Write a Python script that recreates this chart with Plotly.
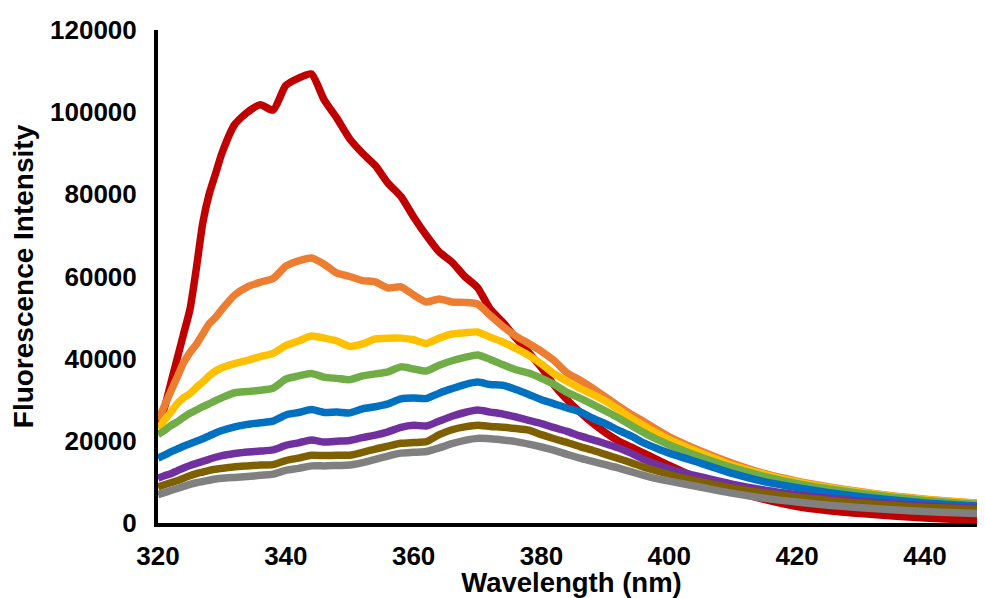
import plotly.graph_objects as go

wavelength = [320, 321, 322, 323, 324, 325, 326, 327, 328, 329, 330,
              332, 334, 336, 338, 340, 342, 344, 346, 348, 350,
              352, 354, 356, 358, 360, 362, 364, 366, 368, 370,
              372, 374, 376, 378, 380, 382, 384, 386, 388, 390,
              392, 394, 396, 398, 400,
              405, 410, 415, 420, 425, 430, 435, 440, 445, 450]

red = [24000, 28000, 34000, 40000, 46000, 52000, 62000, 73000, 80000, 85000, 90000,
       97000, 100000, 101800, 100500, 106500, 108300, 109300, 103000, 98500, 93500,
       90000, 87000, 82700, 79500, 74500, 70000, 66000, 63500, 60000, 57300,
       52000, 48800, 45000, 41500, 37800, 33500, 30000, 27000, 24300, 22000,
       20000, 18500, 17000, 15500, 14000,
       10500, 7800, 5700, 4000, 3000, 2300, 1700, 1200, 850, 500]

orange = [25000, 28500, 32000, 35500, 39000, 41500, 43500, 46000, 48500, 50000, 52000,
          55500, 57500, 58600, 59500, 62500, 63800, 64500, 63000, 60800, 60000,
          59000, 58700, 57200, 57500, 55500, 53800, 54500, 53800, 53700, 53300,
          50500, 47800, 45500, 43700, 41800, 39500, 36500, 34800, 32800, 30700,
          28500, 26500, 24700, 22800, 21000,
          17500, 14500, 12000, 10200, 8800, 7600, 6600, 5800, 5200, 4700]

yellow = [23000, 25000, 27000, 29000, 30500, 31500, 33000, 34300, 35800, 37000, 37800,
          38800, 39600, 40500, 41300, 43200, 44300, 45500, 45000, 44300, 43000,
          43600, 44800, 45000, 45000, 44600, 43700, 45000, 46000, 46300, 46500,
          45200, 44000, 42500, 40800, 38700, 36300, 34500, 32800, 31300, 29700,
          27700, 25600, 23700, 21900, 20300,
          17000, 14000, 11800, 10000, 8600, 7500, 6500, 5700, 5100, 4600]

green = [21500, 22500, 23700, 24600, 25700, 26700, 27500, 28300, 29000, 29800, 30500,
         31700, 32000, 32300, 32800, 35000, 35800, 36400, 35500, 35200, 34900,
         35800, 36300, 36800, 38000, 37500, 37000, 38400, 39500, 40300, 40900,
         39800, 38500, 37300, 36500, 35200, 33700, 31800, 30400, 28900, 27300,
         25600, 23800, 22000, 20400, 19000,
         16000, 13400, 11300, 9600, 8300, 7200, 6300, 5500, 4900, 4400]

blue = [15800, 16500, 17300, 18000, 18700, 19300, 19900, 20500, 21200, 21900, 22500,
        23400, 24000, 24400, 24800, 26300, 26900, 27600, 26900, 27000, 26800,
        27800, 28300, 29000, 30200, 30400, 30300, 31600, 32700, 33700, 34300,
        33700, 33500, 32500, 31300, 30000, 29000, 28000, 27100, 25500, 24200,
        22600, 21200, 19500, 18200, 17000,
        14500, 12000, 10000, 8600, 7400, 6400, 5600, 4900, 4400, 4000]

purple = [10900, 11500, 12000, 12700, 13400, 14000, 14500, 15000, 15500, 16000, 16400,
          16900, 17300, 17500, 17800, 18900, 19500, 20200, 19700, 19900, 20100,
          20800, 21400, 22200, 23300, 23800, 23600, 24800, 26000, 26900, 27500,
          27000, 26500, 25800, 25000, 24200, 23200, 22300, 21200, 20300, 19300,
          18300, 17000, 15500, 14300, 13200,
          11200, 9400, 8000, 6900, 6000, 5300, 4700, 4200, 3800, 3500]

brown = [8800, 9300, 9800, 10300, 10900, 11500, 12000, 12400, 12800, 13100, 13300,
         13700, 13900, 14100, 14200, 15200, 15800, 16500, 16400, 16500, 16500,
         17200, 18000, 18700, 19400, 19600, 19800, 21500, 22700, 23400, 23800,
         23500, 23300, 23000, 22600, 21500, 20500, 19600, 18600, 17700, 16700,
         15700, 14700, 13600, 12700, 11800,
         10000, 8500, 7300, 6300, 5500, 4800, 4300, 3800, 3500, 3200]

grey = [6900, 7400, 7900, 8400, 8900, 9400, 9800, 10100, 10400, 10700, 10900,
        11100, 11300, 11600, 11900, 12800, 13300, 13900, 13900, 14000, 14100,
        14700, 15500, 16300, 17000, 17200, 17400, 18300, 19300, 20100, 20600,
        20500, 20200, 19800, 19200, 18500, 17700, 16700, 15800, 15000, 14200,
        13400, 12500, 11600, 10800, 10200,
        8700, 7200, 6000, 5100, 4300, 3700, 3200, 2800, 2500, 2200]

series = [("red", red, "#C00000"),
          ("orange", orange, "#ED7D31"),
          ("yellow", yellow, "#FFC000"),
          ("green", green, "#70AD47"),
          ("blue", blue, "#0070C0"),
          ("purple", purple, "#7030A0"),
          ("brown", brown, "#7F6000"),
          ("grey", grey, "#808080")]

x_ticks = [320, 340, 360, 380, 400, 420, 440]
y_ticks = [0, 20000, 40000, 60000, 80000, 100000, 120000]

fig = go.Figure()
for name, vals, col in series:
    fig.add_trace(go.Scatter(x=wavelength, y=vals, mode="lines", name=name,
                             line=dict(color=col, width=7.5, shape="spline", smoothing=0.6),
                             showlegend=False))

font_family = "Liberation Sans, Arial, sans-serif"
fig.update_layout(
    width=977, height=590,
    margin=dict(l=150, r=0, t=22, b=75, autoexpand=False),
    paper_bgcolor="white", plot_bgcolor="white",
    font=dict(family=font_family, color="black", size=26),
    xaxis=dict(range=[320, 449.4], tickvals=x_ticks, ticktext=[f"<b>{v}</b>" for v in x_ticks],
               showgrid=False, zeroline=False, showline=True, linecolor="black", linewidth=4,
               ticks="", ticklabelstandoff=7, automargin=False,
               title=dict(text="<b>Wavelength (nm)</b>", font=dict(size=27.5), standoff=0)),
    yaxis=dict(range=[0, 120000], tickvals=y_ticks, ticktext=[f"<b>{v}</b>" for v in y_ticks],
               showgrid=False, zeroline=False, showline=True, linecolor="black", linewidth=4,
               ticks="", ticklabelstandoff=12, automargin=False,
               title=dict(text="<b>Fluorescence Intensity</b>", font=dict(size=28), standoff=10)),
)

fig.write_html("out.html")
